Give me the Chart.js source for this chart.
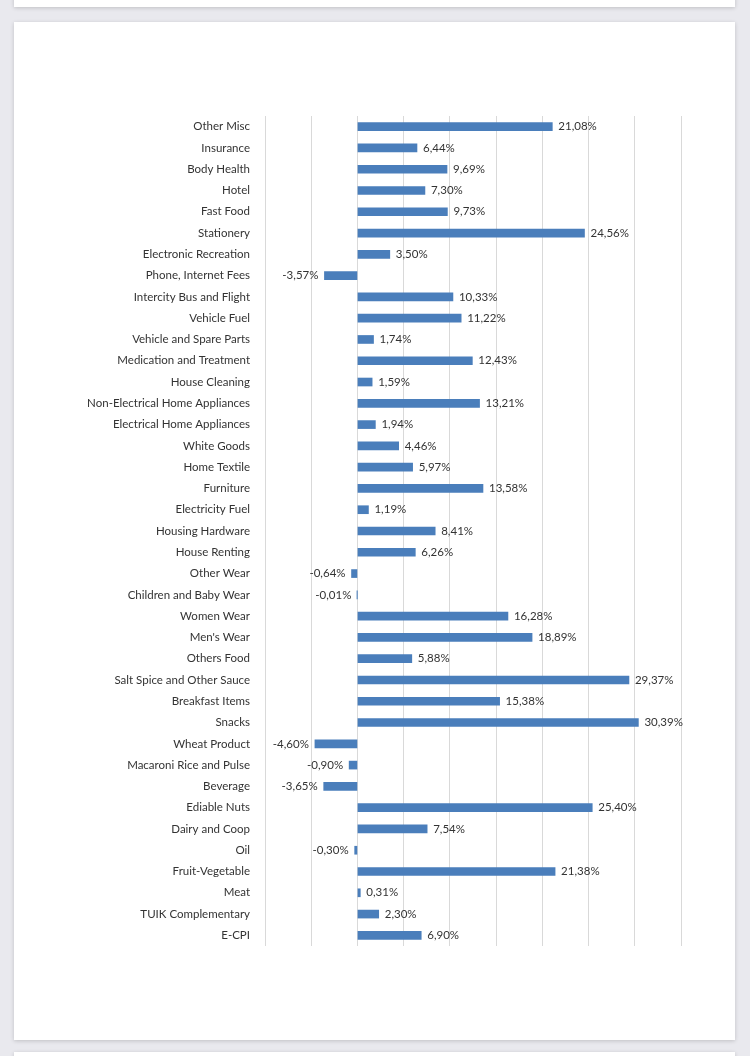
<!DOCTYPE html>
<html>
<head>
<meta charset="utf-8">
<script src="https://cdn.jsdelivr.net/npm/chart.js@4"></script>
<style>
  body { margin: 0; background: #e9e9ee; width: 750px; height: 1056px; overflow: hidden; position: relative; }
  .page { position: absolute; left: 14px; width: 721px; background: #fff; box-shadow: 0 1px 4px rgba(0,0,0,0.18); }
  #prev { top: -20px; height: 27px; }
  #main { top: 22px; height: 1018px; }
  #next { top: 1052px; height: 30px; }
  #wrap { position: absolute; left: 0; top: 0; width: 721px; height: 1018px; }
</style>
</head>
<body>
<div class="page" id="prev"></div>
<div class="page" id="main"><div id="wrap"><canvas id="chart"></canvas></div></div>
<div class="page" id="next"></div>
<script>
// categorias de arriba hacia abajo
var categories = [
  "Other Misc", "Insurance", "Body Health", "Hotel", "Fast Food", "Stationery",
  "Electronic Recreation", "Phone, Internet Fees", "Intercity Bus and Flight",
  "Vehicle Fuel", "Vehicle and Spare Parts", "Medication and Treatment",
  "House Cleaning", "Non-Electrical Home Appliances", "Electrical Home Appliances",
  "White Goods", "Home Textile", "Furniture", "Electricity Fuel", "Housing Hardware",
  "House Renting", "Other Wear", "Children and Baby Wear", "Women Wear", "Men's Wear",
  "Others Food", "Salt Spice and Other Sauce", "Breakfast Items", "Snacks",
  "Wheat Product", "Macaroni Rice and Pulse", "Beverage", "Ediable Nuts",
  "Dairy and Coop", "Oil", "Fruit-Vegetable", "Meat", "TUIK Complementary", "E-CPI"
];
var values = [
  21.08, 6.44, 9.69, 7.30, 9.73, 24.56,
  3.50, -3.57, 10.33,
  11.22, 1.74, 12.43,
  1.59, 13.21, 1.94,
  4.46, 5.97, 13.58, 1.19, 8.41,
  6.26, -0.64, -0.01, 16.28, 18.89,
  5.88, 29.37, 15.38, 30.39,
  -4.60, -0.90, -3.65, 25.40,
  7.54, -0.30, 21.38, 0.31, 2.30, 6.90
];
var axisMin = -10;
var axisMax = 35;
var axisStep = 5;

function formatPct(v) {
  return v.toFixed(2).replace(".", ",") + "%";
}

// etiquetas de valor al final de cada barra
var valueLabels = {
  id: "valueLabels",
  afterDatasetsDraw: function (chart) {
    var ctx = chart.ctx;
    var meta = chart.getDatasetMeta(0);
    ctx.save();
    ctx.font = "11.5px Lato";
    ctx.fillStyle = "#333333";
    ctx.textBaseline = "middle";
    meta.data.forEach(function (bar, i) {
      var v = values[i];
      var p = bar.getProps(["x", "y"], true);
      if (v >= 0) {
        ctx.textAlign = "left";
        ctx.fillText(formatPct(v), p.x + 6, p.y);
      } else {
        ctx.textAlign = "right";
        ctx.fillText(formatPct(v), p.x - 6, p.y);
      }
    });
    ctx.restore();
  }
};

var ctx = document.getElementById("chart").getContext("2d");
new Chart(ctx, {
  type: "bar",
  data: {
    labels: categories,
    datasets: [{
      data: values,
      backgroundColor: "#4a7ebb",
      barThickness: 8
    }]
  },
  options: {
    indexAxis: "y",
    responsive: true,
    maintainAspectRatio: false,
    animation: false,
    layout: { padding: { left: 0, right: 54, top: 94, bottom: 94 } },
    plugins: { legend: { display: false }, tooltip: { enabled: false } },
    scales: {
      x: {
        min: axisMin,
        max: axisMax,
        ticks: { display: false, stepSize: axisStep },
        grid: { color: "#d9d9d9", drawTicks: false },
        border: { display: false }
      },
      y: {
        ticks: { font: { family: "Lato", size: 11.5 }, color: "#333333", padding: 15, autoSkip: false },
        grid: { display: false, drawTicks: false },
        border: { display: false },
        afterFit: function (scale) { scale.width = 251; }
      }
    }
  },
  plugins: [valueLabels]
});
</script>
</body>
</html>
